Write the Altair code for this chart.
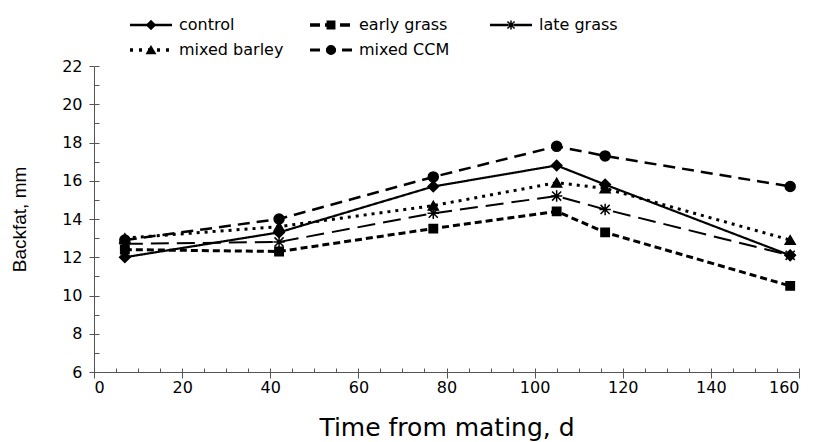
import altair as alt
import pandas as pd

# ---- data ----
days = [7, 42, 77, 105, 116, 158]
series_names = ["control", "early grass", "late grass", "mixed barley", "mixed CCM"]
control = [12.0, 13.3, 15.7, 16.8, 15.8, 12.1]
early_grass = [12.4, 12.3, 13.5, 14.4, 13.3, 10.5]
late_grass = [12.7, 12.8, 14.3, 15.2, 14.5, 12.1]
mixed_barley = [13.0, 13.6, 14.7, 15.9, 15.6, 12.9]
mixed_ccm = [12.9, 14.0, 16.2, 17.8, 17.3, 15.7]
x_ticks = list(range(0, 161, 20))
x_minor = list(range(0, 161, 5))
y_ticks = list(range(6, 23, 2))
y_minor = list(range(6, 23, 1))

rows = []
for name, vals in zip(series_names, [control, early_grass, late_grass, mixed_barley, mixed_ccm]):
    for d, v in zip(days, vals):
        rows.append({"series": name, "day": d, "backfat": v})
df = pd.DataFrame(rows)
legend_df = pd.DataFrame({"lg": series_names})

# ---- styles / layout ----
W, H = 705, 306
FONT = "DejaVu Sans"
YFONT = "Liberation Sans"
dash_styles = [[1, 0], [7, 4], [18, 8], [3, 5], [12, 7]]
legend_dash = [[1, 0], [10, 5], [18, 6], [3, 6], [10, 6]]
width_styles = [2.2, 3, 2, 3, 2.5]
ASTERISK = "M-0.8,-0.8L0.8,0.8M-0.8,0.8L0.8,-0.8M0,-1V1M-1,0H1"
shape_styles = ["diamond", "square", ASTERISK, "triangle-up", "circle"]
size_styles = [110, 70, 130, 100, 100]
legend_sizes = [70, 55, 80, 70, 75]

# legend layout (pixels relative to the plot area's top-left corner)
LEG_X0, LEG_COL_W, LEG_Y0, LEG_ROW_H = 36, 180, -41, 25
LEG_LINE, LEG_GAP = 42, 7

xscale = alt.Scale(domain=[0, 160], nice=False, zero=False)
yscale = alt.Scale(domain=[6, 22], nice=False, zero=False)

main_x_axis = alt.Axis(values=x_ticks, title="Time from mating, d", grid=False,
                       tickSize=6, labelPadding=1, titlePadding=20,
                       labelFontSize=16, titleFontSize=25, titleFontWeight="normal",
                       labelFont=FONT, titleFont=FONT, domainColor="#555",
                       tickColor="#555", labelColor="black", titleColor="black")
main_y_axis = alt.Axis(values=y_ticks, title="Backfat, mm", grid=False,
                       tickSize=5, labelPadding=7, titlePadding=32,
                       labelFontSize=16, titleFontSize=19, titleFontWeight="normal",
                       labelFont=FONT, titleFont=YFONT, domainColor="#555",
                       tickColor="#555", labelColor="black", titleColor="black")
minor_x_axis = alt.Axis(values=x_minor, orient="top", offset=-H, labels=False, title=None,
                        grid=False, domain=False, tickSize=4, tickColor="#555")
minor_y_axis = alt.Axis(values=y_minor, orient="right", offset=-W, labels=False, title=None,
                        grid=False, domain=False, tickSize=5, tickColor="#555")

layers = []
for i, name in enumerate(series_names):
    sub = alt.Chart(df).transform_filter(alt.datum.series == name)
    xa = main_x_axis if i == 0 else None
    ya = main_y_axis if i == 0 else None
    line = sub.mark_line(color="black", strokeCap="butt",
                         strokeDash=dash_styles[i], strokeWidth=width_styles[i]).encode(
        x=alt.X("day:Q", scale=xscale, axis=xa),
        y=alt.Y("backfat:Q", scale=yscale, axis=ya),
        order="day:Q",
    )
    layers.append(line)

for i, name in enumerate(series_names):
    sub = alt.Chart(df).transform_filter(alt.datum.series == name)
    xa = minor_x_axis if i == 0 else None
    ya = minor_y_axis if i == 0 else None
    pts = sub.mark_point(filled=True, color="black", stroke="black", strokeWidth=1.5,
                         opacity=1, shape=shape_styles[i], size=size_styles[i]).encode(
        x=alt.X("day:Q", scale=xscale, axis=xa),
        y=alt.Y("backfat:Q", scale=yscale, axis=ya),
    )
    layers.append(pts)

# ---- legend (drawn as marks, two rows of three) ----
for i, name in enumerate(series_names):
    col, row = i % 3, i // 3
    lx = LEG_X0 + col * LEG_COL_W
    ly = LEG_Y0 + row * LEG_ROW_H
    entry = alt.Chart(legend_df).transform_filter(alt.datum.lg == name)
    layers.append(entry.mark_rule(color="black", strokeCap="butt", strokeDash=legend_dash[i],
                                  strokeWidth=width_styles[i] + 0.5).encode(
        x=alt.value(lx), x2=alt.value(lx + LEG_LINE), y=alt.value(ly)))
    layers.append(entry.mark_point(filled=True, color="black", stroke="black", strokeWidth=1.5,
                                   opacity=1, shape=shape_styles[i], size=legend_sizes[i]).encode(
        x=alt.value(lx + LEG_LINE / 2), y=alt.value(ly)))
    layers.append(entry.mark_text(align="left", baseline="middle", font=FONT, fontSize=16,
                                  color="black").encode(
        x=alt.value(lx + LEG_LINE + LEG_GAP), y=alt.value(ly), text="lg:N"))

chart = alt.layer(*layers).resolve_axis(
    x="independent", y="independent"
).properties(
    width=W, height=H,
    autosize=alt.AutoSizeParams(type="none"),
    padding={"left": 86, "top": 58, "right": 10, "bottom": 70},
).configure(background="white", view=alt.ViewConfig(stroke=None))

chart.save("out.html", embed_options={"renderer": "svg", "actions": False})
